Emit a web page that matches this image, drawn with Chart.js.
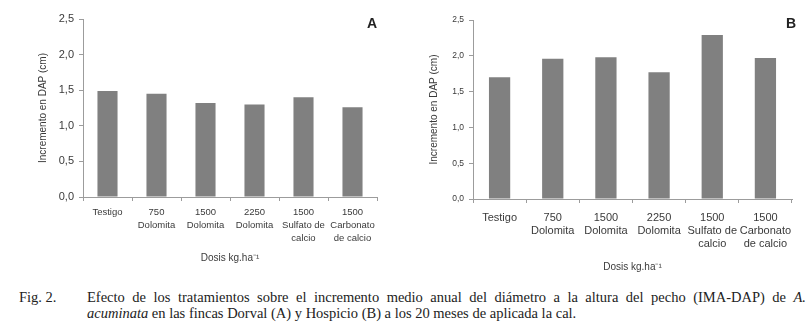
<!DOCTYPE html>
<html>
<head>
<meta charset="utf-8">
<script src="https://cdn.jsdelivr.net/npm/chart.js@4.4.1/dist/chart.umd.min.js"></script>
<style>
  html, body { margin:0; padding:0; background:#fff; }
  #wrap { position:relative; width:811px; height:332px; overflow:hidden; background:#fff; }
  canvas { position:absolute; top:0; }
  #cA { left:0; }
  #cB { left:400px; }
  .panel { position:absolute; font-family:"Liberation Sans", Arial, sans-serif; font-weight:bold; font-size:14px; color:#222; line-height:14px; }
  .cap { position:absolute; font-family:"Liberation Serif", "Times New Roman", serif; font-size:14.5px; color:#222; white-space:nowrap; line-height:16px; }
  .just { white-space:normal; width:719px; text-align:justify; text-align-last:justify; }
</style>
</head>
<body>
<div id="wrap">
  <canvas id="cA" width="400" height="280"></canvas>
  <canvas id="cB" width="411" height="280"></canvas>
  <div class="panel" style="left:367px; top:16px;">A</div>
  <div class="panel" style="left:786px; top:16px;">B</div>
  <div class="cap" style="left:19px; top:289px;">Fig. 2.</div>
  <div class="cap just" style="left:87px; top:289px;">Efecto de los tratamientos sobre el incremento medio anual del diámetro a la altura del pecho (IMA-DAP) de <i>A.</i></div>
  <div class="cap" style="left:87px; top:305px;"><i>acuminata</i> en las fincas Dorval (A) y Hospicio (B) a los 20 meses de aplicada la cal.</div>
</div>
<script>
const categories = [
  ["Testigo"],
  ["750", "Dolomita"],
  ["1500", "Dolomita"],
  ["2250", "Dolomita"],
  ["1500", "Sulfato de", "calcio"],
  ["1500", "Carbonato", "de calcio"]
];
const valuesA = [1.49, 1.45, 1.32, 1.30, 1.40, 1.26];
const valuesB = [1.70, 1.96, 1.98, 1.77, 2.29, 1.97];
const yTicks = [0, 0.5, 1.0, 1.5, 2.0, 2.5];
const yTitle = "Incremento en DAP (cm)";
const xTitle = "Dosis kg.ha\u207B\u00B9";

const FONT = '"Liberation Sans", Arial, sans-serif';
const AXIS = '#9c9c9c';
const TXT = '#3a3a3a';

function makeChart(id, values, cfg) {
  return new Chart(document.getElementById(id), {
    type: 'bar',
    data: {
      labels: categories,
      datasets: [{
        data: values,
        backgroundColor: '#808080',
        borderWidth: 0,
        barPercentage: cfg.barPct,
        categoryPercentage: 1.0
      }]
    },
    options: {
      responsive: false,
      animation: false,
      devicePixelRatio: 1,
      layout: { padding: { left: 0, right: cfg.padRight, top: cfg.padTop, bottom: 0 } },
      plugins: { legend: { display: false }, tooltip: { enabled: false } },
      scales: {
        x: {
          grid: { display: true, drawOnChartArea: false, drawTicks: true, tickLength: 4, offset: true, color: AXIS },
          border: { display: true, color: AXIS, width: 1 },
          ticks: { color: TXT, font: { family: FONT, size: cfg.xTickSize, lineHeight: cfg.xLineH }, padding: cfg.xTickPad, maxRotation: 0, autoSkip: false },
          title: { display: true, text: xTitle, color: TXT, font: { family: FONT, size: 10 }, padding: { top: 0, bottom: cfg.xTitlePad } },
          afterFit: (s) => { s.height = cfg.xHeight; }
        },
        y: {
          min: 0, max: 2.5,
          afterBuildTicks: (s) => { s.ticks = yTicks.map(v => ({ value: v })); },
          grid: { display: true, drawOnChartArea: false, drawTicks: true, tickLength: 4, color: AXIS },
          border: { display: true, color: AXIS, width: 1 },
          ticks: { color: TXT, font: { family: FONT, size: cfg.yTickSize }, padding: 5,
                   callback: (v) => Number(v).toFixed(1).replace('.', ',') },
          title: { display: true, text: yTitle, color: TXT, font: { family: FONT, size: 10 }, padding: { top: cfg.yTitlePad, bottom: 0 } },
          afterFit: (s) => { s.width = cfg.yWidth; }
        }
      }
    }
  });
}

makeChart('cA', valuesA, {
  barPct: 0.41, padRight: 23, padTop: 19, xHeight: 83, yWidth: 83,
  xTickSize: 9.5, xLineH: 1.35, xTickPad: 5, xTitlePad: 16, yTickSize: 11, yTitlePad: 37
});
makeChart('cB', valuesB, {
  barPct: 0.40, padRight: 19, padTop: 20, xHeight: 81, yWidth: 73,
  xTickSize: 11, xLineH: 1.2, xTickPad: 8, xTitlePad: 7, yTickSize: 8.5, yTitlePad: 28
});
</script>
</body>
</html>
